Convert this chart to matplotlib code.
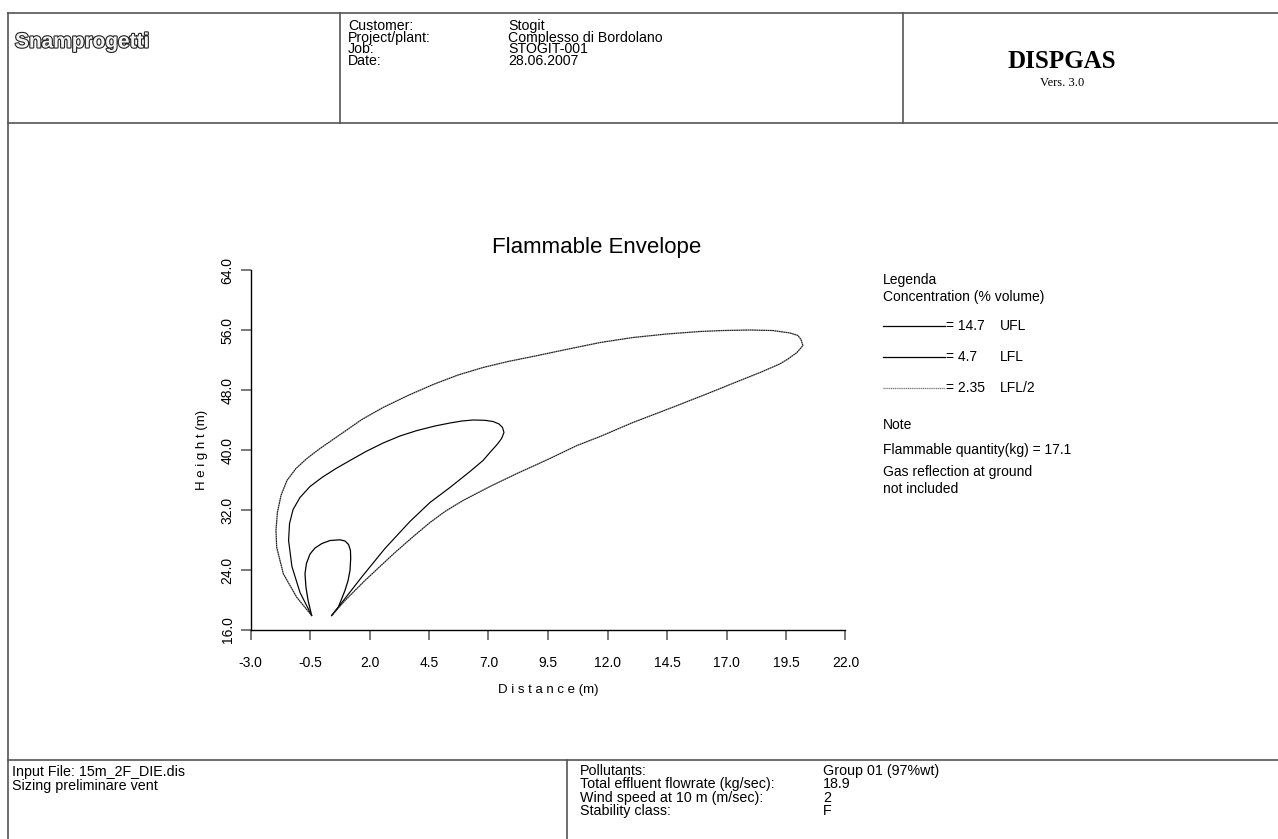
import matplotlib
matplotlib.use("Agg")
import matplotlib.pyplot as plt
from matplotlib.lines import Line2D
import matplotlib.patheffects as pe

plt.rcParams['font.family'] = ['Liberation Sans', 'DejaVu Sans']

# ---------------- data ----------------
ufl_x = [-0.43, -0.58, -0.67, -0.71, -0.65, -0.50, -0.29, 0.00, 0.34, 0.76, 0.97, 1.12,
         1.20, 1.21, 1.18, 1.10, 0.97, 0.69, 0.41]
ufl_y = [17.93, 19.93, 21.71, 23.49, 24.87, 26.13, 26.93, 27.53, 27.93, 28.03, 27.87, 27.40,
         26.60, 25.53, 23.93, 22.60, 21.27, 19.04, 17.93]

lfl_x = [-0.43, -0.92, -1.26, -1.40, -1.36, -1.21, -0.92, -0.50, 0.00, 0.59, 1.18, 1.85,
         2.57, 3.28, 4.00, 4.75, 5.38, 5.89, 6.35, 6.85, 7.19, 7.44, 7.59, 7.65, 7.55, 7.36,
         7.06, 6.77, 6.22, 5.38, 4.54, 3.70, 2.65, 1.69, 0.97, 0.41]
lfl_y = [17.93, 21.00, 24.47, 27.93, 30.20, 32.07, 33.67, 35.13, 36.33, 37.53, 38.60, 39.80,
         40.93, 41.87, 42.60, 43.20, 43.60, 43.87, 44.00, 43.96, 43.80, 43.47, 43.00, 42.33,
         41.53, 40.73, 39.67, 38.60, 37.13, 35.00, 33.00, 30.47, 26.87, 23.13, 20.20, 17.93]

half_x = [-0.43, -1.06, -1.62, -1.90, -1.93, -1.87, -1.72, -1.47, -1.09, -0.63, -0.08, 0.89,
          1.68, 2.57, 3.62, 4.67, 5.72, 6.77, 7.82, 8.87, 10.26, 11.69, 13.07, 14.50, 15.89,
          16.85, 17.99, 18.95, 19.67, 20.00, 20.13, 20.21, 19.96, 19.58, 19.25, 18.41, 17.57,
          16.18, 14.75, 13.07, 11.69, 10.72, 9.58, 8.20, 7.06, 5.93, 5.17, 4.54, 3.79, 3.07,
          2.44, 1.81, 1.39, 0.97, 0.41]
half_y = [17.93, 20.37, 23.49, 27.04, 29.27, 31.67, 33.93, 35.93, 37.53, 38.87, 40.20, 42.33,
          44.07, 45.67, 47.27, 48.73, 50.00, 51.00, 51.80, 52.47, 53.40, 54.33, 55.00, 55.47,
          55.80, 55.93, 56.00, 55.93, 55.60, 55.27, 54.73, 53.93, 53.00, 52.13, 51.49, 50.33,
          49.27, 47.49, 45.71, 43.67, 41.80, 40.60, 38.87, 36.87, 35.13, 33.27, 31.80, 30.33,
          28.33, 26.33, 24.47, 22.60, 21.27, 19.93, 17.93]

x_ticks = [-3.0, -0.5, 2.0, 4.5, 7.0, 9.5, 12.0, 14.5, 17.0, 19.5, 22.0]
x_tick_labels = ["-3.0", "-0.5", "2.0", "4.5", "7.0", "9.5", "12.0", "14.5", "17.0", "19.5", "22.0"]
y_ticks = [16.0, 24.0, 32.0, 40.0, 48.0, 56.0, 64.0]
y_tick_labels = ["16.0", "24.0", "32.0", "40.0", "48.0", "56.0", "64.0"]

legend_values = ["= 14.7", "= 4.7", "= 2.35"]
legend_names = ["UFL", "LFL", "LFL/2"]

header_labels = ["Customer:", "Project/plant:", "Job:", "Date:"]
header_values = ["Stogit", "Complesso di Bordolano", "STOGIT-001", "28.06.2007"]
footer_labels = ["Pollutants:", "Total effluent flowrate (kg/sec):",
                 "Wind speed at 10 m (m/sec):", "Stability class:"]
footer_values = ["Group 01 (97%wt)", "18.9", "2", "F"]

# ---------------- figure ----------------
W, H = 1278, 839
fig = plt.figure(figsize=(W / 100, H / 100), dpi=100)
fig.patch.set_facecolor('white')


def fx(x):
    return x / W


def fy(y):
    return 1 - y / H


def T(x, y, s, **kw):
    kw.setdefault('va', 'center')
    kw.setdefault('ha', 'left')
    kw.setdefault('fontsize', 10)
    return fig.text(fx(x), fy(y), s, **kw)


def L(x0, y0, x1, y1, **kw):
    kw.setdefault('color', '#555555')
    kw.setdefault('lw', 1.2)
    fig.add_artist(Line2D([fx(x0), fx(x1)], [fy(y0), fy(y1)], transform=fig.transFigure, **kw))


# frame lines
L(8, 13, W, 13)
L(8, 123, W, 123)
L(8, 13, 8, H)
L(340, 13, 340, 123)
L(903, 13, 903, 123)
L(8, 760, W, 760)
L(567, 760, 567, H)

# header
T(15, 42, "Snamprogetti", fontsize=15, fontweight='bold', color='#f4f4f4',
  path_effects=[pe.withStroke(linewidth=1.6, foreground='#222222')])
for i, (lab, val) in enumerate(zip(header_labels, header_values)):
    yy = 26 + i * 11.7
    T(348, yy, lab, fontsize=10.2)
    T(508, yy, val, fontsize=10.2)
T(1062, 62, "DISPGAS", fontsize=18, fontweight='bold', family='Liberation Serif', ha='center')
T(1062, 83, "Vers. 3.0", fontsize=9, family='Liberation Serif', ha='center')

# footer
T(12, 772, "Input File: 15m_2F_DIE.dis", fontsize=10.3)
T(12, 786, "Sizing preliminare vent", fontsize=10.3)
for i, (lab, val) in enumerate(zip(footer_labels, footer_values)):
    yy = 771 + i * 13.3
    T(580, yy, lab, fontsize=10.3)
    T(823, yy, val, fontsize=10.3)

# ---------------- plot ----------------
ax = fig.add_axes([fx(250.5), fy(630), 595 / W, 360 / H])
ax.set_xlim(-3, 22)
ax.set_ylim(16, 64)
for s in ['top', 'right']:
    ax.spines[s].set_visible(False)
for s in ['left', 'bottom']:
    ax.spines[s].set_linewidth(1.0)
    ax.spines[s].set_color('black')

ax.plot(ufl_x, ufl_y, color='black', lw=0.9, solid_joinstyle='round')
ax.plot(lfl_x, lfl_y, color='black', lw=0.85, solid_joinstyle='round')
ax.plot(half_x, half_y, color='#222222', lw=0.9, linestyle=(0, (1.5, 0.3)))

ax.set_xticks(x_ticks)
ax.set_xticklabels(x_tick_labels)
ax.set_yticks(y_ticks)
ax.set_yticklabels(y_tick_labels, rotation=90, va='center')
ax.tick_params(axis='both', direction='out', length=7.5, width=1.1, color='#555555',
               labelsize=10)
ax.tick_params(axis='x', pad=11)
ax.tick_params(axis='y', pad=4)

T(597, 247, "Flammable Envelope", fontsize=16, ha='center')
T(202, 450, "H e i g h t (m)", fontsize=9.5, rotation=90, ha='center')
T(548, 690, "D i s t a n c e (m)", fontsize=9.5, ha='center')

# legend / notes
T(883, 280, "Legenda", fontsize=10)
T(883, 297, "Concentration (% volume)", fontsize=10)
leg_styles = [dict(color='black', lw=0.9), dict(color='black', lw=0.9),
              dict(color='#777777', lw=0.9, linestyle=(0, (1, 0.5)))]
for i, (v, n) in enumerate(zip(legend_values, legend_names)):
    yy = 326 + i * 31
    L(883, yy, 945, yy, **leg_styles[i])
    T(946, yy, v, fontsize=10)
    T(1000, yy, n, fontsize=10)
T(883, 425, "Note", fontsize=10)
T(883, 450, "Flammable quantity(kg) = 17.1", fontsize=10)
T(883, 472, "Gas reflection at ground", fontsize=10)
T(883, 489, "not included", fontsize=10)

fig.savefig("out.png", dpi=100, facecolor='white')
